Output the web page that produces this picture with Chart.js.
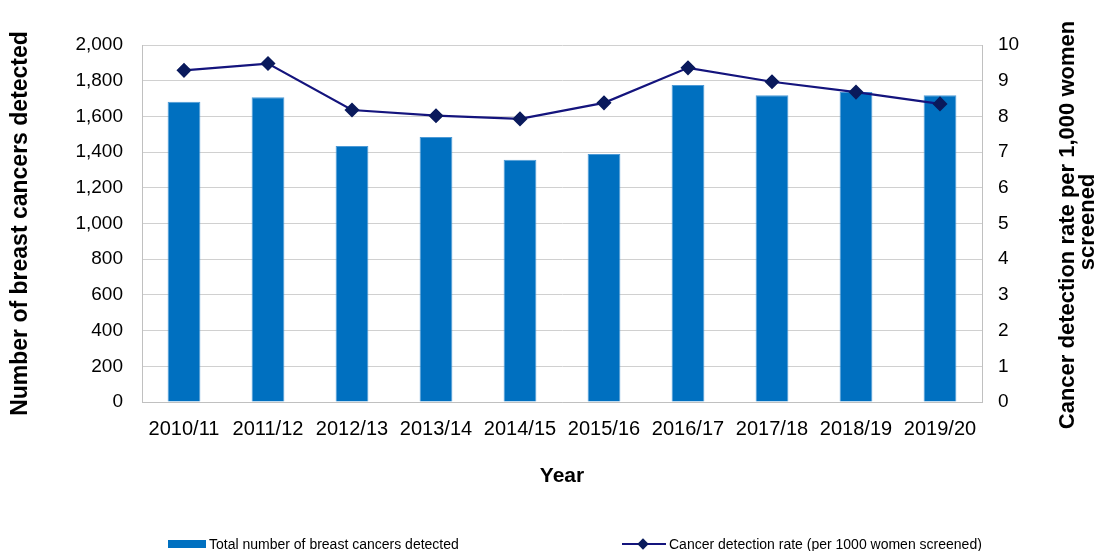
<!DOCTYPE html>
<html>
<head>
<meta charset="utf-8">
<script src="https://cdn.jsdelivr.net/npm/chart.js@4.4.1/dist/chart.umd.min.js"></script>
<style>
  html, body { margin: 0; padding: 0; background: #fff; }
  #wrap { position: relative; width: 1103px; height: 551px; overflow: hidden; }
  #chart { position: absolute; left: 0; top: 0; }
  .leg { position: absolute; top: 533px; height: 22px; display: flex; align-items: center; color: #000; white-space: nowrap; }
  .swatch { width: 38px; height: 8px; background: #0070c0; margin-right: 3px; }
  .lineSw { position: relative; width: 44px; height: 14px; margin-right: 3px; }
  .lineSw .ln { position: absolute; left: 0; right: 0; top: 6px; height: 2px; background: #14147d; }
  .lineSw .dm { position: absolute; left: 17px; top: 3px; width: 8px; height: 8px; background: #0a1a5c; transform: rotate(45deg); }
</style>
</head>
<body>
<div id="wrap">
  <canvas id="chart" width="1103" height="551"></canvas>
  <div class="leg" id="leg1" style="left:168px;"><div class="swatch"></div><span>Total number of breast cancers detected</span></div>
  <div class="leg" id="leg2" style="left:622px;"><div class="lineSw"><div class="ln"></div><div class="dm"></div></div><span>Cancer detection rate (per 1000 women screened)</span></div>
</div>
<script>
// --- Data ---
const years = ["2010/11", "2011/12", "2012/13", "2013/14", "2014/15", "2015/16", "2016/17", "2017/18", "2018/19", "2019/20"];
const cancersDetected = [1682, 1707, 1434, 1485, 1357, 1389, 1776, 1718, 1737, 1718];
const detectionRate = [9.29, 9.48, 8.18, 8.02, 7.93, 8.38, 9.36, 8.97, 8.68, 8.35];
const rightTitleLines = ["Cancer detection rate per 1,000 women", "screened"];

// check if a narrow font is installed (reference uses a condensed face for x labels / legend)
function hasFont(name) {
    const c = document.createElement('canvas').getContext('2d');
    const s = '2010/11 Total number abcdefgWM';
    c.font = '40px monospace';
    const a = c.measureText(s).width;
    c.font = "40px '" + name + "', monospace";
    return c.measureText(s).width !== a;
}
const narrow = hasFont('Liberation Sans Narrow');
const narrowFam = narrow ? "'Liberation Sans Narrow', 'Liberation Sans', Arial" : "'Liberation Sans', Arial";
const xTickSize = narrow ? 23 : 20;
const legSize = narrow ? 17 : 14;
document.querySelectorAll('.leg span').forEach(function (el) {
    el.style.fontFamily = narrowFam;
    el.style.fontSize = legSize + 'px';
});

const sansFam = "'Liberation Sans', Arial, sans-serif";

// right axis title reads bottom-to-top, Chart.js would rotate it the other way
const rightTitlePlugin = {
    id: 'rightTitle',
    afterDraw(chart) {
        const ctx = chart.ctx;
        ctx.save();
        ctx.fillStyle = '#000';
        ctx.font = 'bold 22px ' + sansFam;
        ctx.textAlign = 'center';
        ctx.textBaseline = 'middle';
        const xs = [1068, 1088];
        const ys = [225, 222];
        rightTitleLines.forEach(function (t, i) {
            ctx.save();
            ctx.translate(xs[i], ys[i]);
            ctx.rotate(-Math.PI / 2);
            ctx.fillText(t, 0, 0);
            ctx.restore();
        });
        ctx.restore();
    }
};

const ctx = document.getElementById('chart').getContext('2d');
new Chart(ctx, {
    type: 'bar',
    data: {
        labels: years,
        datasets: [{
            type: 'line',
            label: 'Cancer detection rate (per 1000 women screened)',
            data: detectionRate,
            yAxisID: 'y1',
            order: 0,
            borderColor: '#14147d',
            borderWidth: 2.2,
            tension: 0,
            pointStyle: 'rectRot',
            pointRadius: 6,
            pointBackgroundColor: '#0a1a5c',
            pointBorderColor: '#0a1a5c',
            fill: false
        }, {
            type: 'bar',
            label: 'Total number of breast cancers detected',
            data: cancersDetected,
            yAxisID: 'y',
            order: 1,
            backgroundColor: '#0070c0',
            borderColor: '#4d9ad6',
            borderWidth: 1,
            categoryPercentage: 1,
            barPercentage: 0.39
        }]
    },
    options: {
        responsive: false,
        animation: false,
        layout: { padding: { top: 45, left: 0, right: 0, bottom: 60 } },
        plugins: {
            legend: { display: false },
            tooltip: { enabled: false }
        },
        scales: {
            x: {
                grid: { display: false, drawTicks: false },
                border: { display: true, color: '#c0c0c0' },
                ticks: { color: '#000', padding: 15, font: { family: narrowFam, size: xTickSize }, maxRotation: 0, autoSkip: false },
                title: { display: true, text: 'Year', color: '#000', font: { family: sansFam, size: 21, weight: 'bold' }, padding: { top: 0, bottom: 2 } },
                afterFit: function (scale) { scale.height = 89; }
            },
            y: {
                position: 'left',
                min: 0,
                max: 2000,
                ticks: {
                    stepSize: 200,
                    color: '#000',
                    padding: 19,
                    font: { family: sansFam, size: 19 },
                    callback: function (value) { return value.toLocaleString('en-US'); }
                },
                grid: { color: '#d0d0d0', drawTicks: false },
                border: { display: true, color: '#c0c0c0' },
                title: { display: true, text: 'Number of breast cancers detected', color: '#000', font: { family: sansFam, size: 23, weight: 'bold' }, padding: { top: 7, bottom: 0 } },
                afterFit: function (scale) { scale.width = 142; }
            },
            y1: {
                position: 'right',
                min: 0,
                max: 10,
                ticks: { stepSize: 1, color: '#000', padding: 16, font: { family: sansFam, size: 19 } },
                grid: { drawOnChartArea: false, drawTicks: false },
                border: { display: true, color: '#c0c0c0' },
                afterFit: function (scale) { scale.width = 121; }
            }
        }
    },
    plugins: [rightTitlePlugin]
});
</script>
</body>
</html>
